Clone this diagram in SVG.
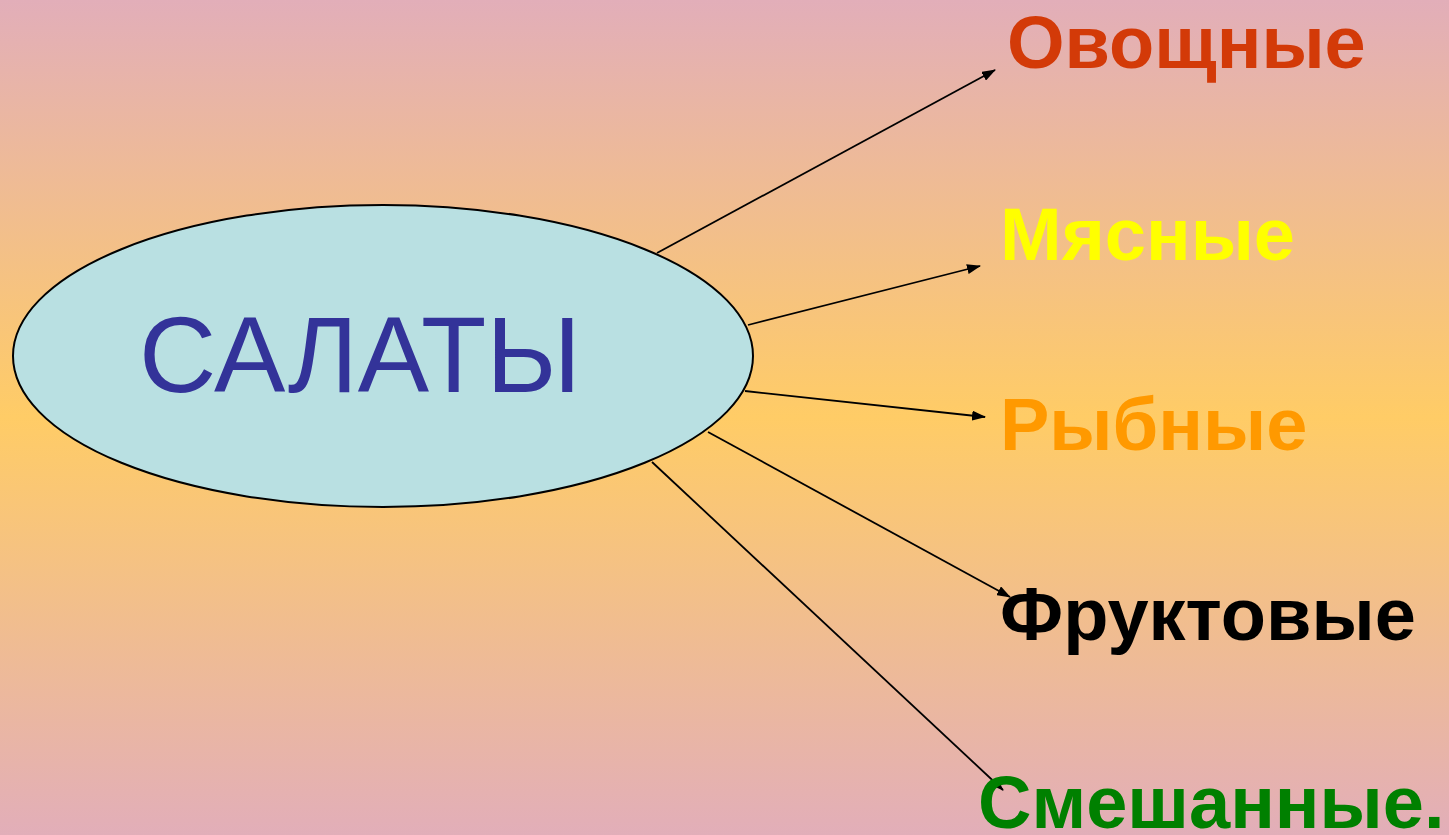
<svg xmlns="http://www.w3.org/2000/svg" width="1449" height="835" viewBox="0 0 1449 835">
<defs>
<linearGradient id="bg" x1="0" y1="0" x2="0" y2="1">
<stop offset="0" stop-color="#E2AEB9"/>
<stop offset="0.5" stop-color="#FFCC66"/>
<stop offset="1" stop-color="#E2AEB9"/>
</linearGradient>
<marker id="ah" markerWidth="14" markerHeight="10" refX="13" refY="5" orient="auto" markerUnits="userSpaceOnUse">
<path d="M0,0 L14,5 L0,10 Z" fill="#000"/>
</marker>
<style>
.lbl{font-family:"Liberation Sans",Arial,sans-serif;font-weight:bold;font-size:74px}
.con line{stroke:#000;stroke-width:1.8;marker-end:url(#ah)}
</style>
</defs>
<rect width="1449" height="835" fill="url(#bg)"/>
<g id="connectors" class="con">
<line x1="657" y1="253" x2="995" y2="70"/>
<line x1="748" y1="325" x2="980" y2="266"/>
<line x1="745" y1="391" x2="985" y2="417"/>
<line x1="708" y1="432" x2="1010" y2="597"/>
<line x1="652" y1="462" x2="1003" y2="790"/>
</g>
<g id="salaty">
<ellipse cx="383" cy="356" rx="370" ry="151" fill="#B9E0E2" stroke="#000" stroke-width="2"/>
<text x="360" y="392" text-anchor="middle" font-family="Liberation Sans,Arial,sans-serif" font-size="107" fill="#333399">САЛАТЫ</text>
</g>
<g id="ovoshchnye"><text class="lbl" x="1007" y="68" fill="#D33A08">Овощные</text></g>
<g id="myasnye"><text class="lbl" x="1000" y="260" fill="#FFFF00">Мясные</text></g>
<g id="rybnye"><text class="lbl" x="1000" y="450" fill="#FF9900">Рыбные</text></g>
<g id="fruktovye"><text class="lbl" x="1000" y="640" fill="#000000">Фруктовые</text></g>
<g id="smeshannye"><text class="lbl" x="978" y="828" fill="#008000">Смешанные.</text></g>
</svg>
